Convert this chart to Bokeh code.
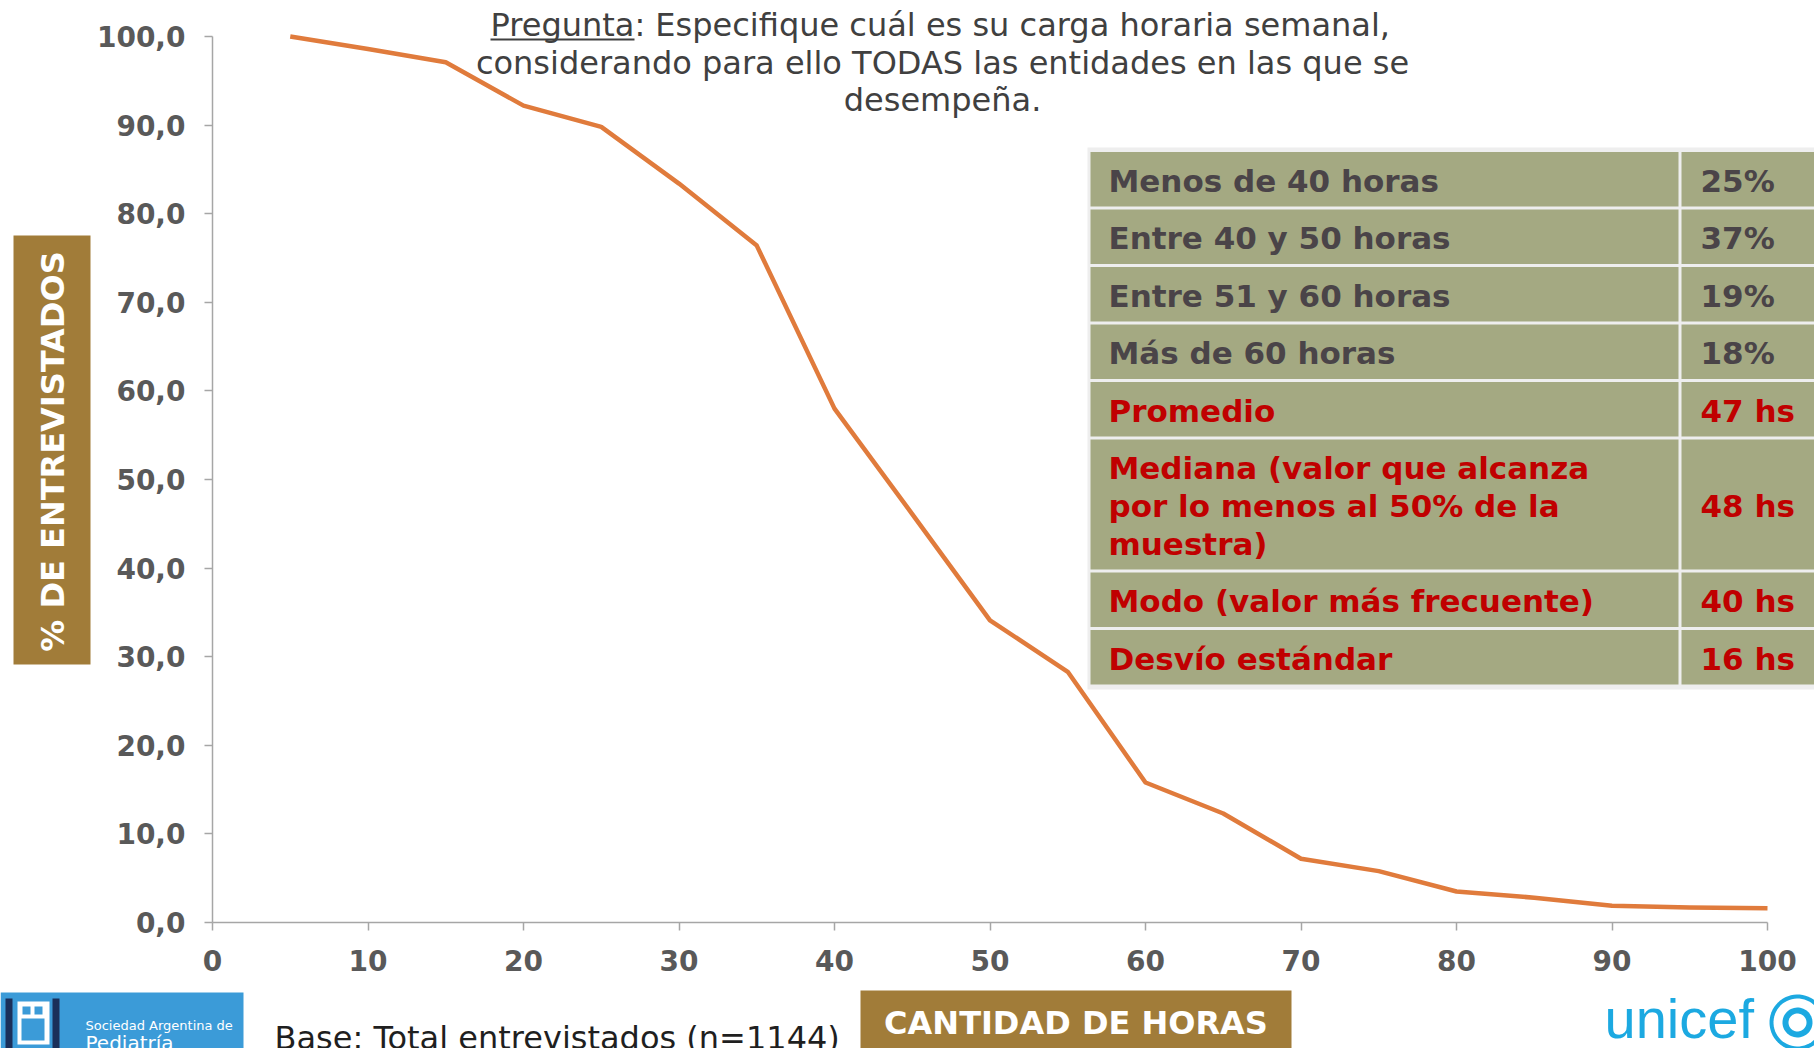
import numpy as np
from bokeh.plotting import figure
from bokeh.layouts import column, row
from bokeh.models import Range1d, FixedTicker, Label, BoxAnnotation, PolyAnnotation
from bokeh.embed import file_html
from bokeh.resources import INLINE

# ---------------- data ----------------
hours = [5, 10, 15, 20, 25, 30, 35, 40, 45, 50, 55, 60, 65, 70, 75, 80, 85, 90, 95, 100]
pct_respondents = [100.0, 98.6, 97.1, 92.2, 89.8, 83.4, 76.4, 58.0, 46.1, 34.1,
                   28.3, 15.8, 12.3, 7.2, 5.8, 3.5, 2.8, 1.9, 1.7, 1.6]

x_ticks = [0, 10, 20, 30, 40, 50, 60, 70, 80, 90, 100]
x_tick_labels = ["0", "10", "20", "30", "40", "50", "60", "70", "80", "90", "100"]
y_ticks = [0, 10, 20, 30, 40, 50, 60, 70, 80, 90, 100]
y_tick_labels = ["0,0", "10,0", "20,0", "30,0", "40,0", "50,0", "60,0", "70,0",
                 "80,0", "90,0", "100,0"]

title_lines = ["Pregunta: Especifique cuál es su carga horaria semanal,",
               "considerando para ello TODAS las entidades en las que se",
               "desempeña."]
y_axis_title = "% DE ENTREVISTADOS"
x_axis_title = "CANTIDAD DE HORAS"
base_note = "Base: Total entrevistados (n=1144)"

table_labels = ["Menos de 40 horas", "Entre 40 y 50 horas", "Entre 51 y 60 horas",
                "Más de 60 horas", "Promedio",
                "Mediana (valor que alcanza\npor lo menos al 50% de la\nmuestra)",
                "Modo (valor más frecuente)", "Desvío estándar"]
table_values = ["25%", "37%", "19%", "18%", "47 hs", "48 hs", "40 hs", "16 hs"]
n_distribution_rows = 4

sap_lines = ["Sociedad Argentina de", "Pediatría"]
unicef_word = "unicef"

# ---------------- page geometry (page pixels) ----------------
PAGE_W, PAGE_H = 1814, 1048
LEFT_W = 91          # strip holding the vertical axis title
MAIN_H = 988         # chart part; below it the footer strip
X0_PAGE, X100_PAGE = 212, 1767
Y0_PAGE, Y100_PAGE = 922, 36
SX = (X100_PAGE - X0_PAGE) / 100.0
SY = (Y0_PAGE - Y100_PAGE) / 100.0
X_END = (PAGE_W - X0_PAGE) / SX
Y_END = Y0_PAGE / SY
BASELINE_SHIFT = 0.33   # em; bokeh anchors "alphabetic" a bit below the true baseline

FONT = "DejaVu Sans"
GRAY_TXT = "#4A4448"
RED_TXT = "#C00000"
CELL = "#A4A982"
BROWN = "#A17C39"


def bare_figure(w, h, xr, yr, bottom=0):
    f = figure(width=w, height=h, x_range=xr, y_range=yr, output_backend="svg",
               toolbar_location=None, x_axis_location=None, y_axis_location=None,
               min_border=0, min_border_left=0, min_border_right=0,
               min_border_top=0, min_border_bottom=bottom)
    f.outline_line_color = None
    f.xgrid.visible = False
    f.ygrid.visible = False
    f.background_fill_color = "white"
    f.border_fill_color = "white"
    return f


def add_box(f, mx, my, x0, x1, y0, y1, color):
    f.add_layout(BoxAnnotation(left=mx(x0), right=mx(x1), top=my(y0), bottom=my(y1),
                               fill_color=color, fill_alpha=1.0, line_color=None))


def add_label(f, mx, my, x, y, text, size, color, style="normal", align="left",
              baseline="alphabetic", angle=0.0, font=FONT):
    if baseline == "alphabetic":
        y = y - BASELINE_SHIFT * size
    f.add_layout(Label(x=mx(x), y=my(y), text=text, text_font=font,
                       text_font_size=f"{size}px", text_font_style=style,
                       text_color=color, text_align=align, text_baseline=baseline,
                       angle=angle))


# ---------------- main chart ----------------
p = figure(width=PAGE_W - LEFT_W, height=MAIN_H,
           x_range=Range1d(0, X_END), y_range=Range1d(0, Y_END),
           output_backend="svg", toolbar_location=None,
           min_border_left=X0_PAGE - LEFT_W, min_border_right=0,
           min_border_top=0, min_border_bottom=MAIN_H - Y0_PAGE)
p.outline_line_color = None
p.xgrid.visible = False
p.ygrid.visible = False
p.background_fill_color = "white"
p.border_fill_color = "white"

for ax, ticks, labels in ((p.xaxis[0], x_ticks, x_tick_labels), (p.yaxis[0], y_ticks, y_tick_labels)):
    ax.ticker = FixedTicker(ticks=ticks)
    ax.major_label_overrides = dict(zip(ticks, labels))
    ax.bounds = (0, 100)
    ax.minor_tick_line_color = None
    ax.major_tick_in = 0
    ax.major_tick_out = 8
    ax.axis_line_color = "#A6A6A6"
    ax.axis_line_width = 1.5
    ax.major_tick_line_color = "#A6A6A6"
    ax.major_tick_line_width = 1.5
    ax.major_label_text_font = FONT
    ax.major_label_text_font_style = "bold"
    ax.major_label_text_font_size = "28px"
    ax.major_label_text_color = "#595959"
p.yaxis[0].major_label_standoff = 19
p.xaxis[0].major_label_standoff = 19

p.line(hours, pct_respondents, line_color="#E07B3C", line_width=4.5, line_join="round")


def mx(X):
    return (X - X0_PAGE) / SX


def my(Y):
    return (Y0_PAGE - Y) / SY


# title
add_label(p, mx, my, 490, 35, title_lines[0], 32, "#404040")
add_box(p, mx, my, 490, 634, 38, 40, "#404040")  # underline of "Pregunta"
add_label(p, mx, my, 942, 73, title_lines[1], 32, "#404040", align="center")
add_label(p, mx, my, 942, 110, title_lines[2], 32, "#404040", align="center")

# table
T_LEFT, T_DIV, T_RIGHT, T_TOP = 1090, 1679.5, 1830, 150
ROW_H, LINE_H = 57.5, 37.8
add_box(p, mx, my, T_LEFT - 3, T_RIGHT, T_TOP - 3, 689, "#EEEEEE")
top = T_TOP
for i, (lab, val) in enumerate(zip(table_labels, table_values)):
    lines = lab.split("\n")
    h = ROW_H + LINE_H * (len(lines) - 1)
    add_box(p, mx, my, T_LEFT, T_DIV - 1.5, top + 1.5, top + h - 1.5, CELL)
    add_box(p, mx, my, T_DIV + 1.5, T_RIGHT, top + 1.5, top + h - 1.5, CELL)
    color = GRAY_TXT if i < n_distribution_rows else RED_TXT
    center = top + h / 2
    first_base = center - LINE_H * (len(lines) - 1) / 2 + 11.5
    for k, ln in enumerate(lines):
        add_label(p, mx, my, 1108, first_base + k * LINE_H, ln, 31, color, style="bold")
    add_label(p, mx, my, 1700, center + 11.5, val, 31, color, style="bold")
    top += h

# ---------------- left strip: vertical axis title ----------------
ident = lambda v: v
left = bare_figure(LEFT_W, MAIN_H, Range1d(0, LEFT_W), Range1d(Y0_PAGE, 0),
                   bottom=MAIN_H - Y0_PAGE)
add_box(left, ident, ident, 13, 90, 235, 664, BROWN)
add_label(left, ident, ident, 52, 451, y_axis_title, 32, "white", style="bold",
          align="center", baseline="middle", angle=np.pi / 2)

# ---------------- footer strip ----------------
foot = bare_figure(PAGE_W, PAGE_H - MAIN_H, Range1d(0, PAGE_W), Range1d(PAGE_H, MAIN_H))
add_box(foot, ident, ident, 860, 1291, 990, 1060, BROWN)
add_label(foot, ident, ident, 1075.5, 1033, x_axis_title, 32, "white", style="bold", align="center")
add_label(foot, ident, ident, 274, 1048, base_note, 32, "#1F1F1F")

# SAP logo
add_box(foot, ident, ident, 0, 243, 992, 1060, "#3B9BD8")
add_box(foot, ident, ident, 5, 12, 998, 1060, "#1A2F5A")
add_box(foot, ident, ident, 52, 59, 998, 1060, "#1A2F5A")
add_box(foot, ident, ident, 17, 49, 1001, 1044, "white")
add_box(foot, ident, ident, 22, 30, 1006, 1014, "#3B9BD8")
add_box(foot, ident, ident, 34, 42, 1006, 1014, "#3B9BD8")
add_box(foot, ident, ident, 21, 44, 1018, 1040, "#3B9BD8")
add_label(foot, ident, ident, 85, 1029, sap_lines[0], 13, "white")
add_label(foot, ident, ident, 85, 1049, sap_lines[1], 20, "white")

# UNICEF logo
add_label(foot, ident, ident, 1604, 1036, unicef_word, 56, "#1CA9E1", font="Liberation Sans")
theta = np.linspace(0, 2 * np.pi, 60)
for r, col in ((28, "#1CA9E1"), (24, "white"), (15, "#1CA9E1"), (9, "white")):
    foot.add_layout(PolyAnnotation(xs=list(1797 + r * np.cos(theta)),
                                   ys=list(1022 + r * np.sin(theta)),
                                   fill_color=col, fill_alpha=1.0, line_color=None))

layout = column(row(left, p, spacing=0), foot, spacing=0)
open("out.html", "w").write(file_html(layout, INLINE))
